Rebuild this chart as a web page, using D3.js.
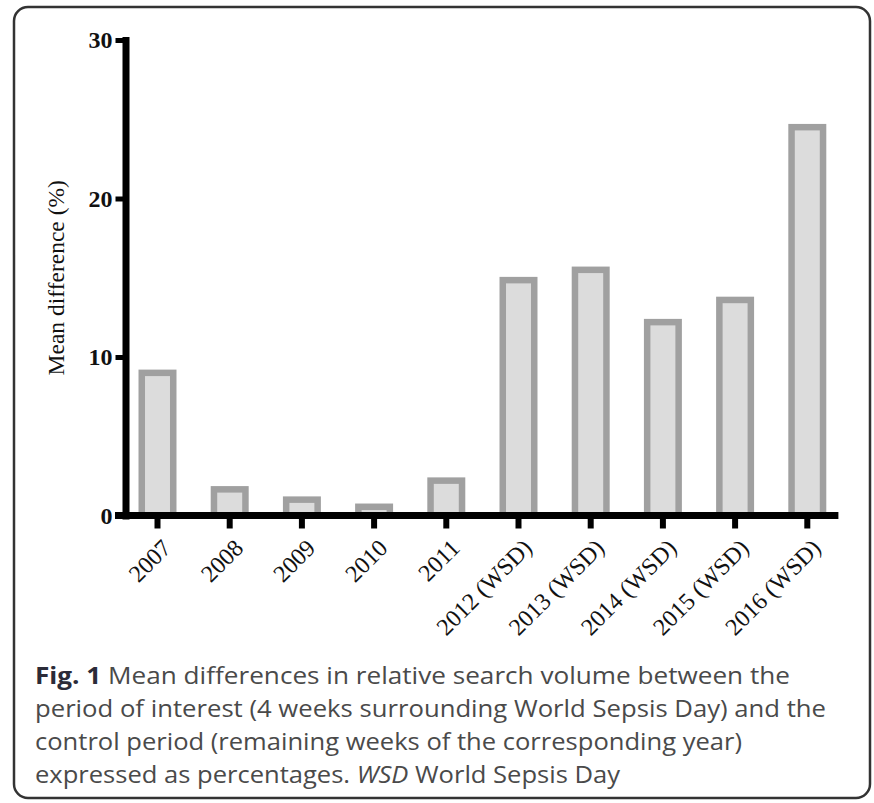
<!DOCTYPE html>
<html>
<head>
<meta charset="utf-8">
<script src="https://cdn.jsdelivr.net/npm/d3@7"></script>
<style>
  html, body { margin: 0; padding: 0; background: #fff; }
  svg { display: block; }
</style>
</head>
<body>
<svg id="chart" width="874" height="803"></svg>
<script>
// ---- data ----
const categories = ["2007", "2008", "2009", "2010", "2011",
  "2012 (WSD)", "2013 (WSD)", "2014 (WSD)", "2015 (WSD)", "2016 (WSD)"];
const meanDifference = [9.0, 1.65, 1.0, 0.55, 2.2, 14.85, 15.5, 12.2, 13.6, 24.5];
const yTicks = [0, 10, 20, 30];
const yTitle = "Mean difference (%)";
const captionLines = [
  [{t: "Fig. 1", b: true}, {t: " Mean differences in relative search volume between the"}],
  [{t: "period of interest (4 weeks surrounding World Sepsis Day) and the"}],
  [{t: "control period (remaining weeks of the corresponding year)"}],
  [{t: "expressed as percentages. "}, {t: "WSD", i: true}, {t: " World Sepsis Day"}]
];
const captionWidths = [755, 791, 707, 585];

// ---- layout ----
const svg = d3.select("#chart");
svg.append("rect")
  .attr("x", 14).attr("y", 7).attr("width", 856).attr("height", 791)
  .attr("rx", 14).attr("ry", 14)
  .attr("fill", "#fff").attr("stroke", "#333").attr("stroke-width", 2.5);

const x = d3.scaleBand().domain(categories).range([121.4, 843.4])
  .paddingInner(0.564).paddingOuter(0.282);
const y = d3.scaleLinear().domain([0, 30]).range([515.5, 40]);

const serif = "'Liberation Serif', 'Times New Roman', serif";

// bars
const sw = 6.5;
svg.append("g").selectAll("rect").data(categories).join("rect")
  .attr("x", d => x(d))
  .attr("width", x.bandwidth())
  .attr("y", (d, i) => y(meanDifference[i]))
  .attr("height", (d, i) => y(0) - y(meanDifference[i]))
  .attr("fill", "#dcdcdc")
  .attr("stroke", "#a0a0a0")
  .attr("stroke-width", sw);

// y axis
const axY = svg.append("g").attr("transform", "translate(125.5,0)")
  .call(d3.axisLeft(y).tickValues(yTicks).tickSize(10).tickSizeOuter(0).tickPadding(3));
axY.select(".domain").attr("stroke", "#000").attr("stroke-width", 7)
  .attr("stroke-linecap", "square");
axY.selectAll(".tick line").attr("stroke", "#000").attr("stroke-width", 5);
axY.selectAll(".tick text")
  .attr("font-family", serif).attr("font-weight", "bold")
  .attr("font-size", 24).attr("fill", "#111");

// x axis
const axX = svg.append("g").attr("transform", "translate(0,515.5)")
  .call(d3.axisBottom(x).tickSize(13).tickSizeOuter(0));
axX.select(".domain").remove();
axX.selectAll(".tick line").attr("stroke", "#000").attr("stroke-width", 6);
axX.selectAll(".tick text")
  .attr("font-family", serif).attr("font-size", 24).attr("fill", "#111")
  .attr("text-anchor", "end")
  .attr("x", 0).attr("y", 0).attr("dy", "0.35em")
  .attr("transform", "translate(9,28) rotate(-45)");
// x axis baseline
svg.append("line")
  .attr("x1", 115)
  .attr("x2", x.range()[1] - 5)
  .attr("y1", y(0)).attr("y2", y(0))
  .attr("stroke", "#000").attr("stroke-width", 7);

// y title
svg.append("text")
  .attr("transform", `translate(64,${(y(0) + y(30)) / 2}) rotate(-90)`)
  .attr("text-anchor", "middle")
  .attr("font-family", serif).attr("font-size", 23.5).attr("fill", "#111")
  .text(yTitle);

// caption
const cap = svg.append("g");
captionLines.forEach((line, i) => {
  const t = cap.append("text")
    .attr("x", 35).attr("y", 684 + i * 33)
    .attr("font-family", "'Open Sans', 'Noto Sans', sans-serif")
    .attr("font-size", 24).attr("fill", "#4a4a4a")
    .attr("textLength", captionWidths[i]).attr("lengthAdjust", "spacingAndGlyphs");
  line.forEach(s => {
    const ts = t.append("tspan").text(s.t);
    if (s.b) ts.attr("font-weight", "bold").attr("fill", "#2b2b38");
    if (s.i) ts.attr("font-style", "italic");
  });
});
</script>
</body>
</html>
